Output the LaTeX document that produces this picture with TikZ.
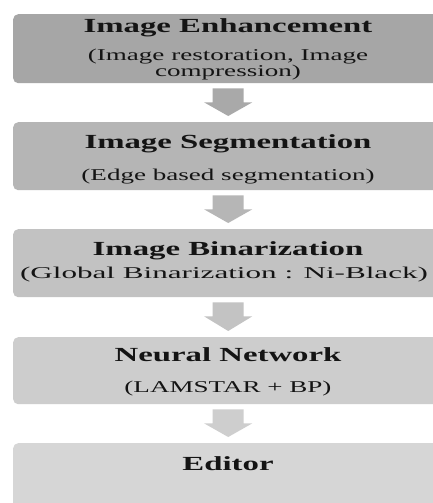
\documentclass[tikz,border=0pt]{standalone}
\usepackage{fontspec}
\setmainfont[FakeStretch=1.64]{Liberation Serif}
\usetikzlibrary{calc}
\definecolor{c1}{HTML}{A6A6A6}
\definecolor{c2}{HTML}{B5B5B5}
\definecolor{c3}{HTML}{C2C2C2}
\definecolor{c4}{HTML}{CDCDCD}
\definecolor{c5}{HTML}{D6D6D6}
\definecolor{a1}{HTML}{A9A9A9}
\definecolor{a2}{HTML}{B6B6B6}
\definecolor{a3}{HTML}{C3C3C3}
\definecolor{a4}{HTML}{CECECE}
\tikzset{
  box/.style={rectangle, rounded corners=5pt, draw=none, anchor=north west,
    minimum width=430pt, inner sep=0pt},
  ttl/.style={anchor=base, inner sep=0pt, font=\fontsize{20}{22}\selectfont\bfseries, text=black!92},
  sub/.style={anchor=base, inner sep=0pt, font=\fontsize{16.5}{18}\selectfont, text=black!92},
}
\newcommand{\downarrowshape}[3]{%
  \fill[#3] ($(#1.south)+(-15.5,5)$) -- ($(#1.south)+(15.5,5)$) -- ($(#1.south)+(15.5,19)$)
    -- ($(#1.south)+(24,19)$) -- ($(#2.north)+(0,-6)$) -- ($(#1.south)+(-24,19)$)
    -- ($(#1.south)+(-15.5,19)$) -- cycle;}
\begin{document}
\begin{tikzpicture}[x=1pt,y=-1pt]
\useasboundingbox (0,0) rectangle (433,503);
\fill[white] (0,0) rectangle (433,503);
\clip (0,0) rectangle (433,503);
% boxes
\node[box, fill=c1, minimum height=69pt] (b1) at (13,14) {};
\node[box, fill=c2, minimum height=68pt] (b2) at (13,122) {};
\node[box, fill=c3, minimum height=68pt] (b3) at (13,229) {};
\node[box, fill=c4, minimum height=67pt] (b4) at (13,337) {};
\node[box, fill=c5, minimum height=75pt] (b5) at (13,443) {};
% arrows
\downarrowshape{b1}{b2}{a1}
\downarrowshape{b2}{b3}{a2}
\downarrowshape{b3}{b4}{a3}
\downarrowshape{b4}{b5}{a4}
% texts
\node[ttl] (t1) at (228,33) {Image Enhancement};
\node[sub] (s1a) at (228,60) {(Image restoration, Image};
\node[sub] (s1b) at (228,77) {compression)};
\node[ttl] (t2) at (228,148) {Image Segmentation};
\node[sub] (s2) at (228,180) {(Edge based segmentation)};
\node[ttl] (t3) at (228,255) {Image Binarization};
\node[sub] (s3) at (224,278) {\scalebox{1.15}[1]{(Global Binarization : Ni-Black)}};
\node[ttl] (t4) at (228,361) {Neural Network};
\node[sub] (s4) at (228,392) {(LAMSTAR + BP)};
\node[ttl] (t5) at (228,470) {Editor};
\end{tikzpicture}
\end{document}
